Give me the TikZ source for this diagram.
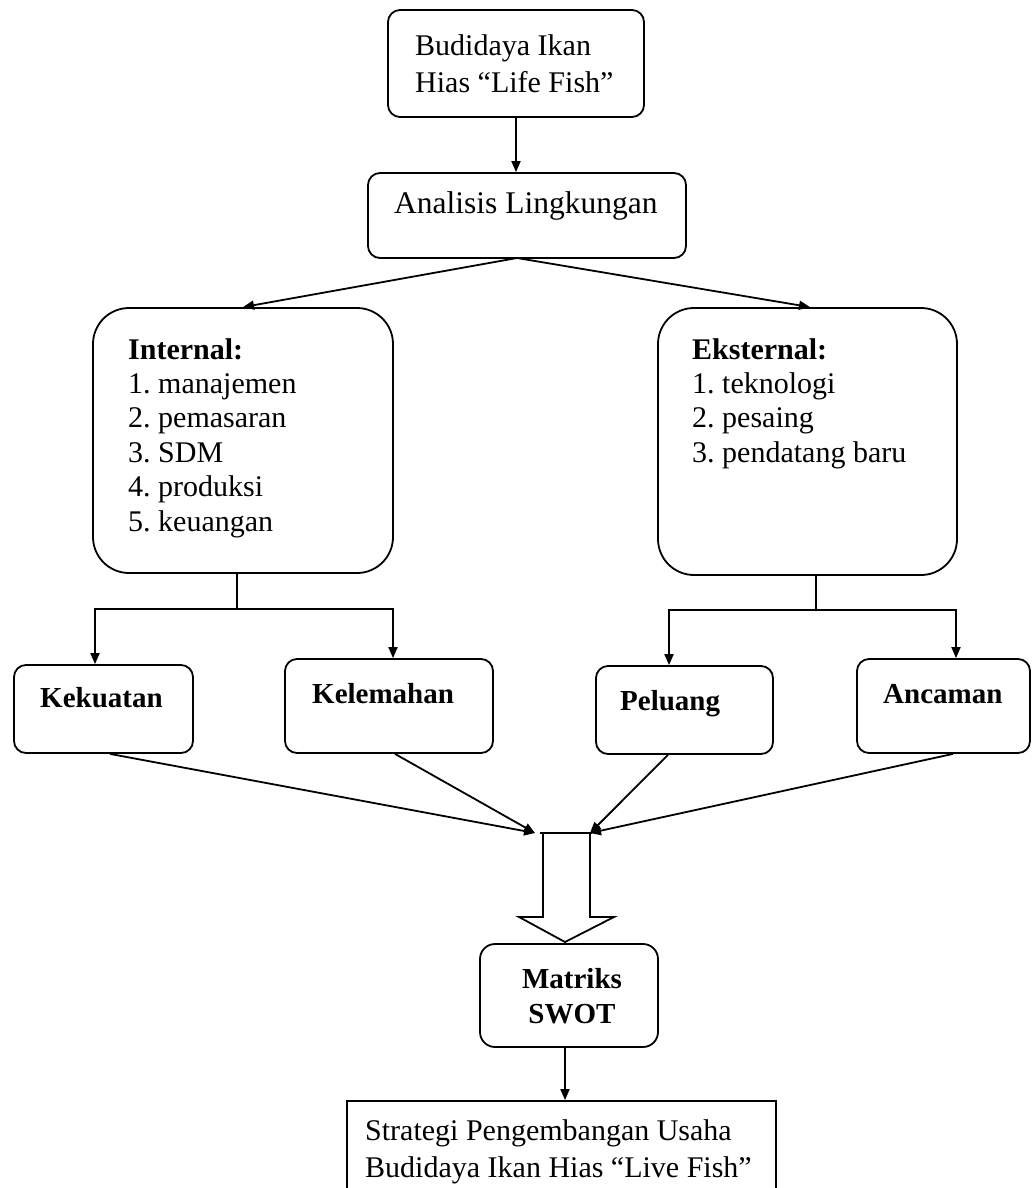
\documentclass[tikz,border=0pt]{standalone}
\usepackage{fontspec}
\setmainfont{Liberation Serif}
\usetikzlibrary{arrows.meta,calc}
\frenchspacing
\tikzset{
  box/.style={draw, line width=1.8pt, rounded corners=12pt, inner sep=0pt},
  bigbox/.style={box, rounded corners=36pt},
  plainbox/.style={draw, line width=1.8pt, inner sep=0pt},
  conn/.style={line width=1.8pt},
  arr/.style={conn, -{Triangle[length=11pt,width=9pt]}},
  txt/.style={inner sep=0pt, font=\fontsize{30}{37}\selectfont},
  btxt/.style={inner sep=0pt, font=\fontsize{29}{35}\selectfont\bfseries},
}
\begin{document}
\begin{tikzpicture}[x=1pt,y=-1pt]
\clip (0,0) rectangle (1031,1188);
\useasboundingbox (0,0) rectangle (1031,1188);
\fill[white] (0,0) rectangle (1031,1188);

% boxes
\node[box, minimum width=256pt, minimum height=107pt] (top) at (516,63.5) {};
\node[box, minimum width=318pt, minimum height=85pt] (ana) at (527,215.5) {};
\node[bigbox, minimum width=300pt, minimum height=265pt] (int) at (243,440.5) {};
\node[bigbox, minimum width=299pt, minimum height=267pt] (eks) at (807.5,441.5) {};
\node[box, minimum width=179pt, minimum height=88pt] (kek) at (103.5,709) {};
\node[box, minimum width=208pt, minimum height=94pt] (kel) at (389,706) {};
\node[box, minimum width=177pt, minimum height=88pt] (pel) at (684.5,710) {};
\node[box, minimum width=173pt, minimum height=94pt] (anc) at (943.5,706) {};
\node[box, rounded corners=15pt, minimum width=178pt, minimum height=103pt] (mat) at (569,995.5) {};
\node[plainbox, minimum width=429pt, minimum height=99pt] (bot) at (561.5,1150.5) {};

% texts
\node[txt, anchor=north west, align=left] at (415,34.5) {Budidaya Ikan\\Hias “Life Fish”};
\node[txt, anchor=base west, font=\fontsize{31.5}{37}\selectfont] at (394,213) {Analisis Lingkungan};
\node[txt, anchor=north west, align=left, font=\fontsize{30}{34.4}\selectfont] at (128,338)
  {\textbf{Internal:}\\1. manajemen\\2. pemasaran\\3. SDM\\4. produksi\\5. keuangan};
\node[txt, anchor=north west, align=left, font=\fontsize{30}{34.4}\selectfont] at (692,338)
  {\textbf{Eksternal:}\\1. teknologi\\2. pesaing\\3. pendatang baru};
\node[btxt, anchor=base west] at (40,707) {Kekuatan};
\node[btxt, anchor=base west] at (312,703) {Kelemahan};
\node[btxt, anchor=base west] at (620,710) {Peluang};
\node[btxt, anchor=base west] at (883,703) {Ancaman};
\node[btxt, anchor=north, align=center] at (572,968) {Matriks\\SWOT};
\node[txt, anchor=north west, align=left] at (365,1119.5) {Strategi Pengembangan Usaha\\Budidaya Ikan Hias “Live Fish”};

% connectors
\draw[arr] (top.south) -- (top.south |- ana.north);
\coordinate (split) at (517,258);
\draw[arr] (split) -- (int.north);
\draw[arr] (split) -- ($(eks.north)+(2.5,0)$);

\coordinate (ib) at (237,573);
\draw[conn] (ib) -- (237,609);
\draw[arr] (237,609) -| ($(kek.north)+(-8.5,0)$);
\draw[arr] (237,609) -| ($(kel.north)+(4,0)$);

\coordinate (eb) at (816,575);
\draw[conn] (eb) -- (816,610);
\draw[arr] (816,610) -| ($(pel.north)+(-15.5,0)$);
\draw[arr] (816,610) -| ($(anc.north)+(12.5,0)$);

\coordinate (mL) at (535,833);
\coordinate (mR) at (590,833);
\draw[arr] ($(kek.south)+(6.5,0)$) -- (mL);
\draw[arr] ($(kel.south)+(6,0)$) -- (mL);
\draw[arr] ($(pel.south)+(-16.5,0)$) -- (mR);
\draw[arr] ($(anc.south)+(9.5,0)$) -- (mR);

% block arrow
\draw[conn, line join=miter] (540,833) -- (592,833) -- (590,833) -- (590,917) -- (614,917)
  -- (565,942) -- (519,917) -- (543,917) -- (543,833);

\draw[arr] ($(mat.south)+(-4,0)$) -- ($(mat.south |- bot.north)+(-4,0)$);
\end{tikzpicture}
\end{document}
